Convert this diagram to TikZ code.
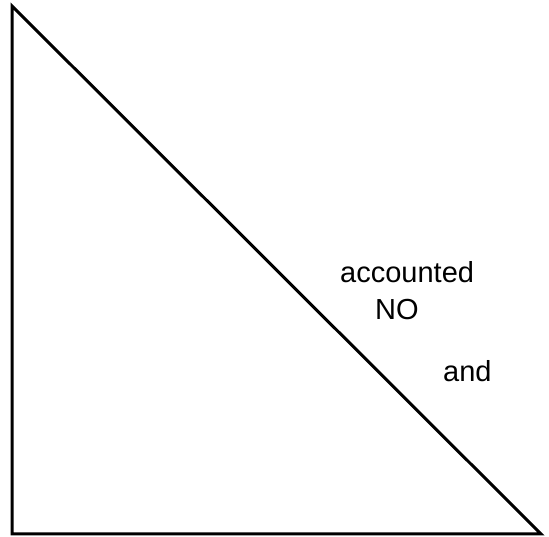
\documentclass[tikz,border=0pt]{standalone}
\usepackage{fontspec}
\setmainfont{Liberation Sans}
\begin{document}
\begin{tikzpicture}[x=1pt,y=1pt,
  edge/.style={line width=3pt,line join=miter},
  lbl/.style={anchor=base west,inner sep=0pt,font=\fontsize{29}{34}\selectfont}]
\useasboundingbox (0,0) rectangle (549,537);
\coordinate (top) at (12,531);
\coordinate (bl) at (12,3);
\coordinate (br) at (541,3);
\draw[edge] (top) -- (bl) -- (br) -- cycle;
\node[lbl] (t1) at (340,254) {accounted};
\node[lbl] (t2) at (375,217) {NO};
\node[lbl] (t3) at (443,155) {and};
\end{tikzpicture}
\end{document}
